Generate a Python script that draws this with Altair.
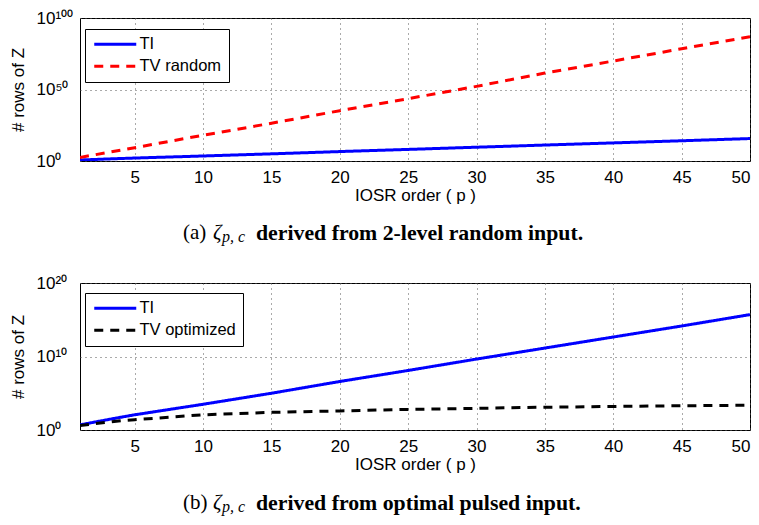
import altair as alt
import pandas as pd

# ---- data (exponents of 10) ----
p_ti = [1, 2, 3, 4, 5, 10, 15, 20, 25, 30, 35, 40, 45, 50]
ti_exp = [0.7, 1.05, 1.4, 1.74, 2.07, 3.5, 5.0, 6.6, 8.1, 9.65, 11.15, 12.65, 14.15, 15.7]

p_rand = [1, 5, 10, 15, 20, 25, 30, 35, 40, 45, 50]
rand_exp = [2.5, 9.3, 18.0, 26.4, 35.2, 43.6, 52.2, 61.5, 69.9, 78.5, 86.9]

p_opt = [1, 2, 3, 4, 5, 10, 15, 20, 25, 30, 35, 40, 45, 50]
opt_exp = [0.6, 0.85, 1.05, 1.25, 1.4, 2.07, 2.4, 2.6, 2.8, 2.95, 3.1, 3.2, 3.3, 3.37]

x_ticks = [5, 10, 15, 20, 25, 30, 35, 40, 45, 50]
ya_ticks = [0, 50, 100]
yb_ticks = [0, 10, 20]

series_a = ["TI", "TV random"]
series_b = ["TI", "TV optimized"]
captions = {
    "a": ("(a)", "derived from 2-level random input."),
    "b": ("(b)", "derived from optimal pulsed input."),
}

SUP = str.maketrans("0123456789", "⁰¹²³⁴⁵⁶⁷⁸⁹")


def label_expr(ticks):
    expr = "''"
    for t in reversed(ticks):
        expr = f"datum.value == {t} ? '10{str(t).translate(SUP)}' : " + expr
    return expr


W = 670


def panel(df, domain, colors, dashes, ymax, yticks, height, legend_y, cap_key, cap_y):
    legend = alt.Legend(
        title=None, orient="none", legendX=5, legendY=legend_y,
        strokeColor="black", fillColor="white", padding=7, cornerRadius=0,
        symbolType="M-4.2,0H4.2", symbolSize=100, symbolStrokeWidth=3, symbolOffset=15,
        labelFont="Liberation Sans", labelFontSize=16.5, labelColor="black",
        rowPadding=5, labelOffset=16,
    )
    lines = alt.Chart(df).mark_line(strokeWidth=3, clip=True).encode(
        x=alt.X("p:Q", scale=alt.Scale(domain=[1, 50], nice=False, zero=False),
                axis=alt.Axis(values=x_ticks, title="IOSR order ( p )",
                              labelPadding=8, titlePadding=2)),
        y=alt.Y("e:Q", scale=alt.Scale(domain=[0, ymax], nice=False),
                axis=alt.Axis(values=yticks, labelExpr=label_expr(yticks),
                              labelAlign="left", labelPadding=44,
                              title="# rows of  Z", titleX=-62, titleY=height / 2,
                              titleAngle=270, titleBaseline="middle", titleAlign="center")),
        color=alt.Color("series:N", scale=alt.Scale(domain=domain, range=colors), legend=legend),
        strokeDash=alt.StrokeDash("series:N", scale=alt.Scale(domain=domain, range=dashes), legend=legend),
    )
    one = alt.Data(values=[{}])
    lab, body = captions[cap_key]
    c1 = alt.Chart(one).mark_text(text=lab, font="Liberation Serif", fontSize=21, align="left",
                                  baseline="middle", color="black").encode(
        x=alt.value(103), y=alt.value(cap_y))
    c2 = alt.Chart(one).mark_text(text="ζ", font="Liberation Serif", fontSize=21, fontStyle="italic",
                                  align="left", baseline="middle", color="black").encode(
        x=alt.value(133), y=alt.value(cap_y))
    c3 = alt.Chart(one).mark_text(text="p, c", font="Liberation Serif", fontSize=16, fontStyle="italic",
                                  align="left", baseline="middle", color="black").encode(
        x=alt.value(142), y=alt.value(cap_y + 4))
    c4 = alt.Chart(one).mark_text(text=body, font="Liberation Serif", fontSize=21.8, fontWeight="bold",
                                  align="left", baseline="middle", color="black").encode(
        x=alt.value(176), y=alt.value(cap_y))
    return alt.layer(lines, c1, c2, c3, c4).properties(width=W, height=height)


df_a = pd.DataFrame(
    [{"p": p, "e": e, "series": "TI"} for p, e in zip(p_ti, ti_exp)]
    + [{"p": p, "e": e, "series": "TV random"} for p, e in zip(p_rand, rand_exp)]
)
df_b = pd.DataFrame(
    [{"p": p, "e": e, "series": "TI"} for p, e in zip(p_ti, ti_exp)]
    + [{"p": p, "e": e, "series": "TV optimized"} for p, e in zip(p_opt, opt_exp)]
)

top = panel(df_a, series_a, ["#0000ff", "#ff0000"], [[1, 0], [9, 7]], 100, ya_ticks, 143, 11, "a", 215)
bottom = panel(df_b, series_b, ["#0000ff", "#000000"], [[1, 0], [9, 7]], 20, yb_ticks, 147, 10, "b", 220)

chart = (
    alt.vconcat(top, bottom, spacing=27)
    .resolve_scale(x="independent", y="independent", color="independent", strokeDash="independent")
    .resolve_legend(color="independent", strokeDash="independent")
    .properties(padding=0)
    .configure_view(stroke="black", strokeWidth=1)
    .configure_axis(
        domain=False, ticks=False, grid=True, gridColor="#555555", gridDash=[1, 4], gridWidth=1,
        labelFont="Liberation Sans", labelFontSize=17, labelColor="black",
        titleFont="Liberation Sans", titleFontSize=17, titleFontWeight="normal", titleColor="black",
    )
)

chart.save("out.html", embed_options={"renderer": "svg", "actions": False})
